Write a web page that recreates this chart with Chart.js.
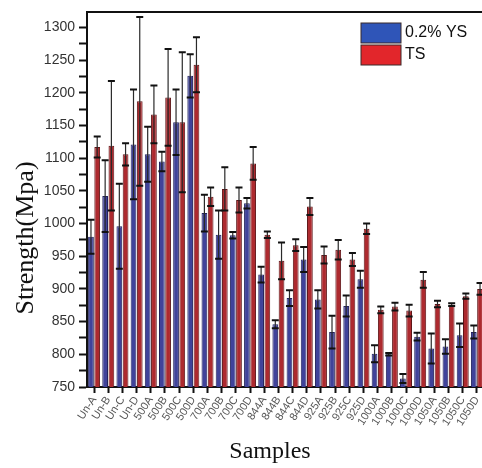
<!DOCTYPE html>
<html>
<head>
<meta charset="utf-8">
<script src="https://cdn.jsdelivr.net/npm/chart.js@4.4.0/dist/chart.umd.min.js"></script>
<style>
  html, body { margin: 0; padding: 0; background: #fff; overflow: hidden; }
  #wrap { width: 492px; height: 468px; }
</style>
</head>
<body>
<div id="wrap"><canvas id="chart"></canvas></div>
<script>
const categories = [
  "Un-A", "Un-B", "Un-C", "Un-D", "500A", "500B", "500C", "500D",
  "700A", "700B", "700C", "700D", "844A", "844B", "844C", "844D",
  "925A", "925B", "925C", "925D", "1000A", "1000B", "1000C", "1000D",
  "1050A", "1050B", "1050C", "1050D",
];

// 0.2% yield strength and its error
const ysValues = [980, 1042, 996, 1121, 1106, 1095, 1155, 1226, 1016, 983, 982, 1031, 922, 846, 886, 945, 884, 834, 874, 915, 801, 800, 763, 827, 809, 812, 829, 834];
const ysErrors = [26, 55, 65, 84, 42, 15, 50, 33, 28, 37, 5, 8, 12, 6, 12, 19, 14, 25, 16, 13, 13, 2, 7, 6, 23, 11, 18, 10];

// tensile strength and its error
const tsValues = [1117, 1119, 1106, 1187, 1167, 1193, 1155, 1243, 1041, 1053, 1036, 1092, 983, 943, 967, 1026, 952, 960, 945, 992, 868, 873, 867, 914, 877, 876, 889, 900];
const tsErrors = [16, 99, 17, 129, 44, 74, 107, 42, 14, 33, 19, 25, 5, 28, 9, 13, 13, 15, 10, 8, 5, 6, 9, 12, 5, 2, 4, 9];

const yMin = 750;
const yMax = 1323;
const yStep = 25;

// draws error bars on top of every bar, using the y scale
const errorBars = {
  id: "errorBars",
  afterDatasetsDraw(chart) {
    const ctx = chart.ctx;
    const y = chart.scales.y;
    chart.data.datasets.forEach((ds, i) => {
      const meta = chart.getDatasetMeta(i);
      meta.data.forEach((bar, j) => {
        const hi = y.getPixelForValue(ds.data[j] + ds.errors[j]);
        const lo = y.getPixelForValue(ds.data[j] - ds.errors[j]);
        ctx.save();
        ctx.strokeStyle = "#2a2a2a";
        ctx.lineWidth = 1.2;
        ctx.beginPath();
        ctx.moveTo(bar.x, hi);
        ctx.lineTo(bar.x, lo);
        ctx.stroke();
        ctx.lineWidth = 2;
        ctx.strokeStyle = "#111";
        ctx.beginPath();
        ctx.moveTo(bar.x - 3.5, hi);
        ctx.lineTo(bar.x + 3.5, hi);
        ctx.moveTo(bar.x - 3.5, lo);
        ctx.lineTo(bar.x + 3.5, lo);
        ctx.stroke();
        ctx.restore();
      });
    });
  },
};

// legend boxes in the upper right and the two axis titles
const boxLegend = {
  id: "boxLegend",
  afterDraw(chart) {
    const ctx = chart.ctx;
    ctx.save();
    chart.data.datasets.forEach((ds, i) => {
      const top = 23 + i * 22;
      ctx.fillStyle = ds.legendColor;
      ctx.fillRect(361, top, 40, 20);
      ctx.strokeStyle = "#3a2a2a";
      ctx.lineWidth = 1;
      ctx.strokeRect(361, top, 40, 20);
      ctx.fillStyle = "#111";
      ctx.font = "16px 'Liberation Sans', Arial, sans-serif";
      ctx.textBaseline = "middle";
      ctx.textAlign = "left";
      ctx.fillText(ds.label, 405, top + 10);
    });

    ctx.fillStyle = "#111";
    ctx.textAlign = "center";
    ctx.textBaseline = "middle";
    ctx.font = "24px 'Liberation Serif', 'Times New Roman', serif";
    ctx.fillText("Samples", 270, 452);

    ctx.font = "26px 'Liberation Serif', 'Times New Roman', serif";
    ctx.translate(26, 238);
    ctx.rotate(-Math.PI / 2);
    ctx.fillText("Strength(Mpa)", 0, 0);
    ctx.restore();
  },
};

const ctx = document.getElementById("chart").getContext("2d");
new Chart(ctx, {
  type: "bar",
  data: {
    labels: categories,
    datasets: [
      {
        label: "0.2% YS",
        data: ysValues,
        errors: ysErrors,
        backgroundColor: "#40439a",
        borderColor: "#22235c",
        borderWidth: 1,
        legendColor: "#2f55b8",
        categoryPercentage: 0.88,
        barPercentage: 0.92,
      },
      {
        label: "TS",
        data: tsValues,
        errors: tsErrors,
        backgroundColor: "#ad2a2f",
        borderColor: "#5e1618",
        borderWidth: 1,
        legendColor: "#e2262b",
        categoryPercentage: 0.88,
        barPercentage: 0.92,
      },
    ],
  },
  options: {
    responsive: true,
    maintainAspectRatio: false,
    animation: false,
    layout: { padding: { top: 10, right: 8, left: 0, bottom: 0 } },
    plugins: {
      legend: { display: false },
      tooltip: { enabled: false },
    },
    scales: {
      x: {
        position: "bottom",
        afterFit: (scale) => { scale.height = 81; },
        grid: {
          display: true,
          drawOnChartArea: false,
          drawTicks: true,
          offset: false,
          tickLength: 6,
          tickWidth: 2,
          tickColor: "#111",
        },
        border: { display: true, color: "#111", width: 2 },
        ticks: {
          autoSkip: false,
          minRotation: 57,
          maxRotation: 57,
          padding: 1,
          color: "#555",
          font: { family: "'Liberation Sans', Arial, sans-serif", size: 11 },
        },
      },
      xTop: {
        type: "category",
        position: "top",
        labels: categories,
        grid: { display: false, drawTicks: false, tickLength: 0 },
        ticks: { display: false },
        border: { display: true, color: "#111", width: 2 },
      },
      y: {
        min: yMin,
        max: yMax,
        afterFit: (scale) => { scale.width = 87; },
        grid: {
          display: true,
          drawOnChartArea: false,
          drawTicks: true,
          tickLength: 8,
          tickWidth: 2,
          tickColor: "#111",
        },
        border: { display: true, color: "#111", width: 2 },
        ticks: {
          stepSize: yStep,
          includeBounds: false,
          autoSkip: false,
          padding: 4,
          color: "#333",
          font: { family: "'Liberation Sans', Arial, sans-serif", size: 14 },
          callback: (v) => (v % 50 === 0 ? v : ""),
        },
      },
    },
  },
  plugins: [errorBars, boxLegend],
});
</script>
</body>
</html>
